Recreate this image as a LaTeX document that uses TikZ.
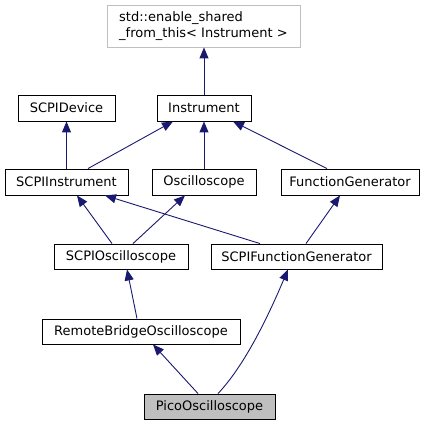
\documentclass[tikz,border=0pt]{standalone}
\usepackage{fontspec}
\setmainfont{DejaVu Sans}
\usetikzlibrary{arrows.meta}
\definecolor{mblue}{HTML}{191970}
\definecolor{grey75}{HTML}{BFBFBF}
\tikzset{
  cls/.style={draw=black, line width=0.9pt, fill=white, rectangle, inner sep=0pt,
    minimum height=26pt, font=\fontsize{13}{16}\selectfont},
  inh/.style={draw=mblue, line width=0.9pt, -{Triangle[length=11pt,width=9pt]}, mblue},
}
\begin{document}
\begin{tikzpicture}[x=1pt,y=-1pt]
\useasboundingbox (0,0) rectangle (429,425);
\node[cls, draw=grey75, minimum width=193pt, minimum height=42pt, align=left] (esft) at (203.5,26) {std::enable\_shared\\\_from\_this< Instrument >};
\node[cls, minimum width=94pt] (inst) at (204,108) {Instrument};
\node[cls, minimum width=97pt] (sdev) at (66.5,108) {SCPIDevice};
\node[cls, minimum width=123pt] (sci) at (66.5,182) {SCPIInstrument};
\node[cls, minimum width=104pt] (osc) at (204,182) {Oscilloscope};
\node[cls, minimum width=138pt] (fg) at (350,182) {FunctionGenerator};
\node[cls, minimum width=134pt, minimum height=25pt] (scio) at (121,256.5) {SCPIOscilloscope};
\node[cls, minimum width=171pt, minimum height=25pt] (scifg) at (296.5,256.5) {SCPIFunctionGenerator};
\node[cls, minimum width=198pt, minimum height=25pt] (rbo) at (141,331.5) {RemoteBridgeOscilloscope};
\node[cls, fill=grey75, minimum width=131pt, minimum height=25pt] (pico) at (209.5,406.5) {PicoOscilloscope};

\draw[inh] (inst.north) -- (inst.north |- esft.south);
\draw[inh] (sci.north) -- (sdev.south);
\draw[inh] ([xshift=21.5pt]sci.north) -- ([xshift=-31pt]inst.south);
\draw[inh] (osc.north) -- (inst.south);
\draw[inh] ([xshift=-23pt]fg.north) -- ([xshift=29pt]inst.south);
\draw[inh] ([xshift=-9pt]scio.north) -- ([xshift=10.5pt]sci.south);
\draw[inh] ([xshift=12pt]scio.north) -- ([xshift=-19pt]osc.south);
\draw[inh] ([xshift=-36.5pt]scifg.north) -- ([xshift=38.5pt]sci.south);
\draw[inh] ([xshift=9.5pt]scifg.north) -- ([xshift=-10pt]fg.south);
\draw[inh] ([xshift=-4pt]rbo.north) -- ([xshift=6pt]scio.south);
\draw[inh] ([xshift=-11.5pt]pico.north) -- ([xshift=12pt]rbo.south);
\draw[inh] ([xshift=8.5pt]pico.north) .. controls (246,364) and (270,312) .. ([xshift=-8.5pt]scifg.south);
\end{tikzpicture}
\end{document}
